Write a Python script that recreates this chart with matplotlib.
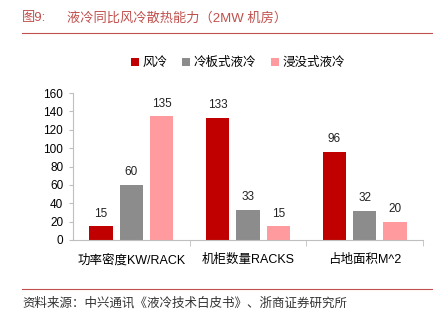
import numpy as np
import matplotlib
matplotlib.use("Agg")
import matplotlib.pyplot as plt
from matplotlib.lines import Line2D

plt.rcParams['font.family'] = ['Liberation Sans', 'Noto Sans CJK SC', 'DejaVu Sans']

categories = ["功率密度KW/RACK", "机柜数量RACKS", "占地面积M^2"]
series_names = ["风冷", "冷板式液冷", "浸没式液冷"]
air = [15, 133, 96]
cold_plate = [60, 33, 32]
immersion = [135, 15, 20]
colors = ["#C00000", "#8C8C8C", "#FF9B9F"]

fig = plt.figure(figsize=(4.36, 3.23), dpi=100)
ax = fig.add_axes([0.1674, 0.257, 0.8026, 0.455])

x = np.arange(len(categories))
w = 0.2
step = 0.26
for i, (vals, name) in enumerate(zip([air, cold_plate, immersion], series_names)):
    bars = ax.bar(x + (i - 1) * step, vals, w, color=colors[i], label=name)
    for b, v in zip(bars, vals):
        ax.text(b.get_x() + b.get_width() / 2, v + 7, str(v), ha="center", va="bottom",
                fontsize=8.5, color="#222222")

ax.set_xlim(-0.5, 2.5)
ax.set_ylim(0, 160)
ax.set_yticks(range(0, 161, 20))
ax.set_xticks(x)
ax.set_xticklabels(categories, fontsize=9)
ax.set_xticks([0.5, 1.5, 2.5], minor=True)
ax.tick_params(axis="x", which="major", length=0, pad=10)
ax.tick_params(axis="x", which="minor", length=4, color="#BFBFBF")
ax.tick_params(axis="y", length=3, color="#BFBFBF", labelsize=8.5, pad=4)
for s in ["top", "right"]:
    ax.spines[s].set_visible(False)
for s in ["left", "bottom"]:
    ax.spines[s].set_color("#BFBFBF")

ax.legend(loc="center", bbox_to_anchor=(238 / 436, 1 - 63 / 323), bbox_transform=fig.transFigure,
          ncol=3, frameon=False, fontsize=9, handlelength=0.6, handleheight=0.6,
          handletextpad=0.3, columnspacing=1.2)

fig.text(22 / 436, 1 - 18 / 323, "图9:", color="#C0504D", fontsize=9.5, va="center")
fig.text(67 / 436, 1 - 18 / 323, "液冷同比风冷散热能力（2MW 机房）", color="#C0504D", fontsize=9.5, va="center")
fig.add_artist(Line2D([22 / 436, 432 / 436], [1 - 33 / 323, 1 - 33 / 323], color="#C0504D", lw=0.8))
fig.add_artist(Line2D([22 / 436, 432 / 436], [1 - 289 / 323, 1 - 289 / 323], color="#C0504D", lw=0.8))
fig.text(22 / 436, 1 - 303 / 323, "资料来源：中兴通讯《液冷技术白皮书》、浙商证券研究所", color="#333333",
         fontsize=9, va="center")

fig.savefig("out.png", dpi=100)
